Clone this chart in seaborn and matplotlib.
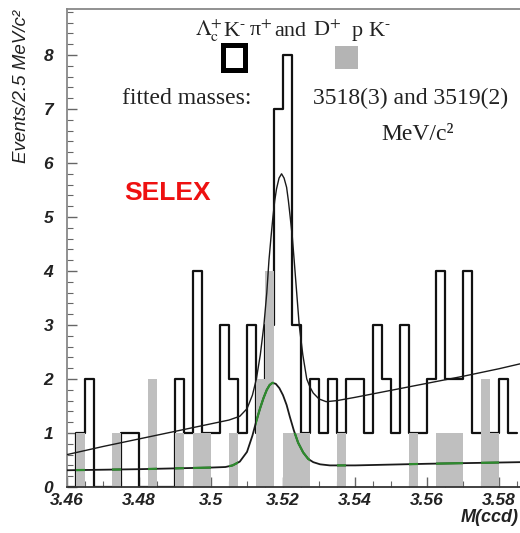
import numpy as np
import pandas as pd
import matplotlib
matplotlib.use("Agg")
import matplotlib.pyplot as plt
from matplotlib.path import Path
from matplotlib.patches import Rectangle
from matplotlib.ticker import MultipleLocator, FuncFormatter
import seaborn as sns

# ---------------- data ----------------
bin_low = 3.46
bin_high = 3.585
# Lambda_c K- pi+ (open black histogram), events per 2.5 MeV bin
black_counts = [0, 1, 2, 0, 0, 0, 1, 1, 0, 0,
                0, 0, 2, 1, 4, 1, 1, 3, 2, 1,
                3, 1, 3, 7, 8, 3, 1, 2, 1, 2,
                1, 2, 2, 1, 3, 2, 1, 3, 1, 1,
                2, 4, 2, 2, 4, 1, 1, 1, 2, 1]
# D+ p K- (grey filled histogram)
gray_counts = [0, 1, 0, 0, 0, 1, 0, 0, 0, 2,
               0, 0, 1, 0, 1, 1, 0, 0, 1, 0,
               0, 2, 4, 0, 1, 1, 1, 0, 0, 0,
               1, 0, 0, 0, 0, 0, 0, 0, 1, 0,
               0, 1, 1, 1, 0, 0, 2, 1, 0, 0]

# fitted curve for the black histogram
fit_total_mass = [3.4600, 3.4700, 3.4800, 3.4900, 3.5000, 3.5050, 3.5080, 3.5100,
                  3.5115, 3.5126, 3.5137, 3.5147, 3.5155, 3.5161, 3.5167, 3.5172,
                  3.5177, 3.5182, 3.5189, 3.5196, 3.5203, 3.5210, 3.5215, 3.5220,
                  3.5226, 3.5231, 3.5238, 3.5245, 3.5255, 3.5266, 3.5275, 3.5284,
                  3.5300, 3.5320, 3.5350, 3.5400, 3.5500, 3.5600, 3.5700, 3.5800,
                  3.5858]
fit_total = [0.60, 0.75, 0.89, 1.03, 1.17, 1.24, 1.31, 1.45,
             1.70, 2.00, 2.45, 3.00, 3.60, 4.20, 4.65, 5.00,
             5.30, 5.52, 5.72, 5.80, 5.72, 5.55, 5.30, 5.00,
             4.62, 4.20, 3.60, 3.00, 2.45, 2.00, 1.85, 1.74,
             1.63, 1.58, 1.60, 1.66, 1.79, 1.92, 2.05, 2.19,
             2.28]

# fitted curve for the grey histogram
fit_dpk_mass = [3.4600, 3.4800, 3.5000, 3.5040, 3.5060, 3.5080, 3.5100, 3.5115,
                3.5125, 3.5136, 3.5146, 3.5155, 3.5163, 3.5171, 3.5180, 3.5190,
                3.5200, 3.5210, 3.5219, 3.5230, 3.5242, 3.5256, 3.5270, 3.5284,
                3.5303, 3.5330, 3.5400, 3.5600, 3.5858]
fit_dpk = [0.31, 0.33, 0.36, 0.37, 0.40, 0.47, 0.65, 0.95,
           1.20, 1.45, 1.65, 1.80, 1.89, 1.93, 1.91, 1.83,
           1.70, 1.52, 1.30, 1.05, 0.82, 0.64, 0.52, 0.46,
           0.42, 0.40, 0.40, 0.43, 0.46]

x_ticks = [3.46, 3.48, 3.50, 3.52, 3.54, 3.56, 3.58]
y_ticks = [0, 1, 2, 3, 4, 5, 6, 7, 8]

# ---------------- figure ----------------
sns.set_theme(style="white")
plt.rcParams["font.family"] = ["Liberation Sans", "DejaVu Sans"]
plt.rcParams["mathtext.fontset"] = "stix"

W, H = 520, 533
fig = plt.figure(figsize=(W / 100, H / 100), dpi=100)
fig.patch.set_facecolor("white")
ax = fig.add_axes([67 / W, 46 / H, 453 / W, 478 / H])
ax.set_facecolor("white")

n_bins = len(black_counts)
bw = (bin_high - bin_low) / n_bins
centers = [bin_low + bw * (i + 0.5) for i in range(n_bins)]
df_black = pd.DataFrame({"mass": centers, "n": black_counts})
df_gray = pd.DataFrame({"mass": centers, "n": gray_counts})

sns.histplot(data=df_black, x="mass", weights="n", bins=n_bins,
             binrange=(bin_low, bin_high), element="step",
             fill=False, color="#111111", linewidth=1.6, ax=ax, zorder=2)
n_before = len(ax.patches)
sns.histplot(data=df_gray, x="mass", weights="n", bins=n_bins,
             binrange=(bin_low, bin_high), element="bars",
             fill=True, color="#bfbfbf", alpha=1, linewidth=0, ax=ax, zorder=2.5)
gray_bars = ax.patches[n_before:]

sns.lineplot(x=fit_total_mass, y=fit_total, color="#1a1a1a", linewidth=1.0,
             ax=ax, zorder=4, estimator=None)
sns.lineplot(x=fit_dpk_mass, y=fit_dpk, color="#1a1a1a", linewidth=1.3,
             ax=ax, zorder=4, estimator=None)
# the lower curve appears green where it crosses the grey bars
n_lines = len(ax.lines)
sns.lineplot(x=fit_dpk_mass, y=fit_dpk, color="#2e8b2e", linewidth=1.6,
             ax=ax, zorder=4.5, estimator=None)
green_line = ax.lines[n_lines]
paths = [p.get_path().transformed(p.get_patch_transform()) for p in gray_bars
         if p.get_height() > 0]
clip = Path.make_compound_path(*paths)
green_line.set_clip_path(clip, ax.transData)

ax.set_xlim(3.46, 3.46 + 453 / 3600)
ax.set_ylim(0, 478 / 54)
ax.set_xlabel("")
ax.set_ylabel("")

ax.set_xticks(x_ticks)
ax.set_yticks(y_ticks)
ax.xaxis.set_minor_locator(MultipleLocator(0.005))
ax.yaxis.set_minor_locator(MultipleLocator(0.2))
ax.xaxis.set_major_formatter(FuncFormatter(lambda v, p: f"{v:g}"))
ax.tick_params(axis="both", which="both", direction="in", color="#666666",
               bottom=True, left=True, top=False, right=False)
ax.tick_params(axis="both", which="major", length=7, width=1.0)
ax.tick_params(axis="both", which="minor", length=4, width=0.8)
ax.tick_params(axis="y", which="major", pad=10)
ax.tick_params(axis="x", which="major", pad=4)
for lab in ax.get_xticklabels() + ax.get_yticklabels():
    lab.set_fontsize(12.5)
    lab.set_fontweight("bold")
    lab.set_fontstyle("italic")
    lab.set_color("#222222")

for s in ["left", "top"]:
    ax.spines[s].set_color("#888888")
    ax.spines[s].set_linewidth(1.3)
ax.spines["bottom"].set_color("#333333")
ax.spines["bottom"].set_linewidth(1.3)
ax.spines["right"].set_visible(False)

def fx(px):
    return px / W

def fy(py):
    return 1 - py / H

serif = ["Liberation Serif", "DejaVu Serif"]
title_tokens = [
    (195, 36, r"$\Lambda_{\mathrm{c}}^{+}$"),
    (223, 36, r"K$^{\text{-}}$"),
    (249, 36, r"π$^{+}$"),
    (274, 36, "and"),
    (313, 36, r"D$^{+}$"),
    (352, 36, "p"),
    (368, 36, r"K$^{\text{-}}$"),
]
for tx, ty, s in title_tokens:
    fig.text(fx(tx), fy(ty), s, family=serif, fontsize=16, color="#222222",
             ha="left", va="baseline")

fig.text(fx(122), fy(104), "fitted masses:", family=serif, fontsize=17,
         color="#222222", ha="left", va="baseline")
fig.text(fx(313), fy(104), "3518(3) and 3519(2)", family=serif, fontsize=17,
         color="#222222", ha="left", va="baseline")
fig.text(fx(418), fy(140), "MeV/c²", family=serif, fontsize=17,
         color="#222222", ha="center", va="baseline")

# legend squares
fig.add_artist(Rectangle((fx(222.5), fy(69.5)), 22 / W, 24 / H, transform=fig.transFigure,
                         fill=False, edgecolor="black", linewidth=3.6))
fig.add_artist(Rectangle((fx(335), fy(69)), 23 / W, 23 / H, transform=fig.transFigure,
                         facecolor="#b4b4b4", edgecolor="none"))

fig.text(fx(124), fy(193), "SELEX", fontsize=19, fontweight="bold",
         color="#ee1111", ha="left", va="center")

fig.text(fx(22), fy(10), "Events/2.5 MeV/c²", rotation=90, fontsize=13.5,
         fontstyle="italic", color="#222222", ha="center", va="top")
fig.text(fx(519), fy(517), "M(ccd)", fontsize=13, fontweight="bold",
         fontstyle="italic", color="#222222", ha="right", va="center")

fig.savefig("out.png", dpi=100, facecolor="white")
